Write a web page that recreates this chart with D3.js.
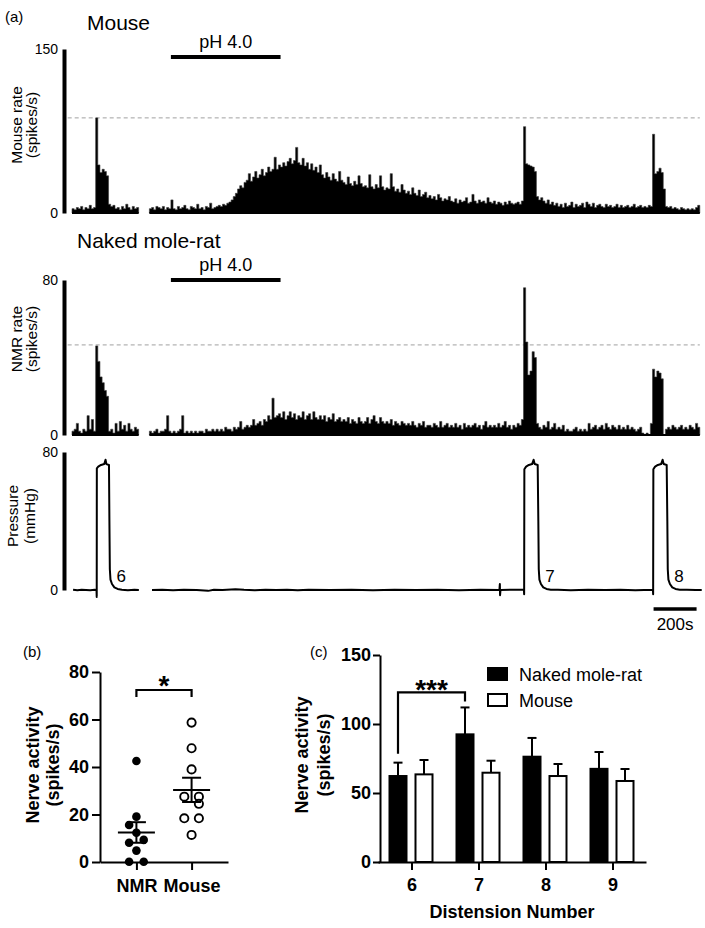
<!DOCTYPE html>
<html><head><meta charset="utf-8">
<script src="https://cdn.jsdelivr.net/npm/d3@7"></script>
<style>
body{margin:0;background:#fff;}
svg{display:block;}
</style></head><body>
<svg id="fig" width="705" height="928"></svg>
<script>
// ================= DATA =================
// (a) firing-rate histograms, 10 s bins
const binWidth = 10;          // seconds per bin
const seg1Start = 0;          // first recording segment start (s)
const seg2Start = 360;        // second recording segment start (s)
const mouseSeg1 = [4,3,5,4,6,3,5,4,7,4,5, 87,44,37,40,38,34, 8,6,7,4,5,3,6,4,8,5,3,6,4,5];
const mouseSeg2 = [
 4,5,3,6,5,4,6,3,5,4,
 12,4,3,6,4,5,7,4,3,6,
 5,4,8,4,5,3,6,5,9,4,
 5,6,7,6,8,7,9,10,12,15,
 18,22,25,23,28,30,36,29,33,38,
 32,35,40,34,37,42,38,40,51,40,
 44,42,46,43,47,50,45,48,60,46,
 44,50,43,46,40,45,39,42,37,44,
 35,32,37,33,30,36,31,29,38,30,
 28,26,33,27,25,29,26,34,27,24,
 25,23,35,24,22,26,23,34,24,21,
 23,22,36,24,20,22,19,26,21,18,
 20,17,23,18,16,21,15,17,19,14,
 16,13,15,12,17,14,11,13,12,15,
 11,10,13,9,12,10,11,14,9,10,
 17,11,9,12,10,11,9,14,10,9,
 11,8,10,9,7,10,8,11,9,8,
 9,10,8,11,
 79,45,44,43,42,38,
 15,12,14,11,9,12,8,10,7,9,
 6,8,5,9,6,7,10,5,8,6,
 7,9,5,10,8,6,9,5,7,8,
 6,5,8,6,7,5,6,8,5,7,
 5,6,7,5,6,8,5,6,7,5,
 6,5,7,6,
 72,36,38,41,37,22,
 6,5,6,4,5,4,3,5,4,3,4,3,4,3,5,7];
const nmrSeg1 = [2,3,6,2,1,3,2,10,3,8,2, 46,38,30,27,23,20, 2,3,1,6,2,7,3,5,2,6,3,2,4,3];
const nmrSeg2 = [
 2,1,2,3,1,2,2,3,10,2,
 1,2,1,2,3,10,1,2,1,2,
 1,2,1,2,2,1,3,2,2,3,
 2,3,2,3,2,4,3,3,2,4,
 3,4,7,3,4,5,4,5,8,5,
 6,7,5,8,7,10,8,19,9,10,
 11,9,12,8,10,12,9,11,8,10,
 9,12,8,10,11,8,12,9,8,10,
 8,10,7,9,8,11,7,8,9,7,
 8,7,9,6,8,7,6,9,7,6,
 7,9,6,8,10,7,6,9,7,6,
 7,6,8,5,7,6,5,7,6,5,
 6,5,7,5,4,6,5,7,4,5,
 5,4,6,5,4,7,4,5,6,4,
 5,4,6,4,5,3,6,4,5,4,
 5,6,4,5,3,5,7,4,5,4,
 5,4,6,4,5,7,4,5,3,5,
 4,6,5,8,
 76,48,31,33,43,40,
 6,4,3,5,4,7,3,4,6,3,
 4,3,5,2,3,2,2,3,4,2,
 3,2,3,2,6,3,4,5,3,4,
 5,3,6,4,3,5,4,3,5,3,
 4,3,5,3,4,3,2,3,4,1,
 0,1,0,6,
 34,30,33,32,29,0,
 3,4,3,5,4,3,4,5,3,4,3,5,4,3,6,4];
const mouseRateMax = 150, nmrRateMax = 80, pressureMax = 80;
const mouseRefLevel = 87;     // dashed reference (first distension peak)
const nmrRefLevel = 46.5;
const phWindow = [460, 970];  // pH 4.0 application (s)
const phLabel = "pH 4.0";
// pressure trace (time s, mmHg)
const pressSeg1T = [5,25,45,65,85,105,114,115,115.5,122,135,150,156,160,172,174,176,179,186,197,212,232,260,290,311];
const pressSeg1V = [0.1,-0.1,0.15,0,-0.1,0.1,0.05,-4,70.5,71.5,72.5,73,75.5,73,72.5,40,12,6,3.5,1.5,0.6,0.2,-0.1,0.1,0];
const pressSeg2T = [372,420,470,520,580,633,660,700,760,800,850,900,950,1000,1050,1100,1200,1300,1400,1500,1600,1700,1800,1900,1988,1990,1991,1993,2050,2102,2103,2104,2112,2125,2140,2147,2152,2166,2169,2171,2174,2181,2192,2207,2227,2260,2320,2400,2480,2550,2620,2702,2703,2704,2712,2725,2740,2747,2752,2766,2769,2771,2774,2781,2792,2807,2827,2860,2900,2929];
const pressSeg2V = [0,0.15,-0.1,0.1,0,-0.5,0.1,0,0.4,0.1,-0.1,0.15,0,0.1,-0.15,0.1,0,0.15,-0.1,0.1,0,0.15,-0.15,0.1,0,3.5,-3,0,0.15,0.1,-2.5,70,71.5,72.5,73,75.5,73,72.5,40,12,6,3.5,1.5,0.6,0.2,0.1,-0.1,0.1,0,0.15,-0.1,0.1,-2.5,70,71.5,72.5,73,75.5,73,72.5,40,12,6,3.5,1.5,0.6,0.2,0.1,-0.05,0];
const distensionLabels = ["6","7","8"];
const distensionEndTimes = [174, 2169, 2769];
const scaleBarSeconds = 200, scaleBarStart = 2705, scaleBarLabel = "200s";

// (b) nerve activity during pH 4.0
const scatterGroups = ["NMR","Mouse"];
const nmrActivity = [42.5,19.1,15.6,12.3,9.3,8.1,4.8,0.1,0.1];
const mouseActivity = [58.7,47.9,39.0,27.5,27.5,24.5,18.4,18.4,11.4];
const bTicks = [0,20,40,60,80];

// (c) distension responses
const distensions = [6,7,8,9];
const barSeries = ["Naked mole-rat","Mouse"];
const nmrBarMean = [62.3,92.5,76.3,67.5];
const nmrBarSem  = [9.7,19.5,13.6,12.2];
const mouseBarMean = [63.5,64.7,62.3,58.7];
const mouseBarSem  = [10.4,8.7,8.7,8.7];
const cTicks = [0,50,100,150];

// ================= DRAW =================
const FONT = "'Liberation Sans', Arial, Helvetica, sans-serif";
const svg = d3.select("#fig").attr("font-family", FONT);
svg.append("rect").attr("width",705).attr("height",928).attr("fill","#fff");

function text(x, y, s, size, o = {}) {
  const t = svg.append("text").attr("x", x).attr("y", y).text(s)
    .attr("font-size", size).attr("fill", "#000")
    .attr("text-anchor", o.anchor || "start")
    .attr("font-weight", o.bold ? "bold" : "normal");
  if (o.rotate) t.attr("transform", `rotate(-90,${x},${y})`);
  return t;
}
function styleAxis(g, size, bold, sw) {
  g.attr("font-family", FONT).attr("font-size", size).attr("font-weight", bold ? "bold" : "normal");
  g.selectAll("text").attr("fill", "#000");
  g.selectAll("path,line").attr("stroke", "#000").attr("stroke-width", sw);
}

// ---------- panel (a) ----------
const xT = d3.scaleLinear().domain([0, 2920]).range([72, 699.8]);
text(5, 22, "(a)", 15);

function ratePanel(cfg) {
  const y = d3.scaleLinear().domain([0, cfg.max]).range([cfg.y0, cfg.y1]);
  const g = svg.append("g");
  g.append("line").attr("x1", xT(-20)).attr("x2", xT(2920))
    .attr("y1", y(cfg.ref)).attr("y2", y(cfg.ref))
    .attr("stroke", "#a0a0a0").attr("stroke-width", 1).attr("stroke-dasharray", "4,3");
  [[seg1Start, cfg.seg1], [seg2Start, cfg.seg2]].forEach(([t0, vals]) => {
    const pts = vals.map((v, i) => ({ t: t0 + i * binWidth, v }));
    pts.push({ t: t0 + vals.length * binWidth, v: vals[vals.length - 1] });
    g.append("path")
      .attr("d", d3.area().curve(d3.curveStepAfter).x(d => xT(d.t)).y0(y(0)).y1(d => y(d.v))(pts))
      .attr("fill", "#000").attr("stroke", "#3a3a3a").attr("stroke-width", 0.6);
    g.append("line").attr("x1", xT(t0)).attr("x2", xT(t0 + vals.length * binWidth))
      .attr("y1", y(0)).attr("y2", y(0)).attr("stroke", "#000").attr("stroke-width", 2);
  });
  const ax = g.append("g").attr("transform", "translate(64,0)")
    .call(d3.axisLeft(y).tickValues([0, cfg.max]).tickSize(0).tickPadding(6).tickSizeOuter(0));
  styleAxis(ax, 14, false, 4);
  // titles / pH bar
  text(cfg.titleX, cfg.titleY, cfg.title, 21);
  g.append("line").attr("x1", xT(phWindow[0])).attr("x2", xT(phWindow[1]))
    .attr("y1", cfg.phY).attr("y2", cfg.phY).attr("stroke", "#000").attr("stroke-width", 4);
  text(xT((phWindow[0] + phWindow[1]) / 2), cfg.phY - 9, phLabel, 18, { anchor: "middle" });
  text(22, cfg.labelY, cfg.label[0], 15.5, { anchor: "middle", rotate: true });
  text(37, cfg.labelY, cfg.label[1], 15.5, { anchor: "middle", rotate: true });
}
ratePanel({ max: mouseRateMax, y0: 213, y1: 49, seg1: mouseSeg1, seg2: mouseSeg2, ref: mouseRefLevel,
  title: "Mouse", titleX: 87, titleY: 30, phY: 57, label: ["Mouse rate", "(spikes/s)"], labelY: 125 });
ratePanel({ max: nmrRateMax, y0: 435, y1: 280, seg1: nmrSeg1, seg2: nmrSeg2, ref: nmrRefLevel,
  title: "Naked mole-rat", titleX: 77, titleY: 248, phY: 280, label: ["NMR rate", "(spikes/s)"], labelY: 339 });

// pressure
const yP = d3.scaleLinear().domain([0, pressureMax]).range([590, 452]);
const pLine = d3.line().x(d => xT(d.t)).y(d => yP(d.v));
[[pressSeg1T, pressSeg1V], [pressSeg2T, pressSeg2V]].forEach(([T, V]) => {
  svg.append("path").attr("d", pLine(T.map((t, i) => ({ t, v: V[i] }))))
    .attr("fill", "none").attr("stroke", "#000").attr("stroke-width", 2).attr("stroke-linejoin", "round");
});
const axP = svg.append("g").attr("transform", "translate(64,0)")
  .call(d3.axisLeft(yP).tickValues([0, pressureMax]).tickSize(0).tickPadding(6).tickSizeOuter(0));
styleAxis(axP, 14, false, 4);
text(18, 516, "Pressure", 15.5, { anchor: "middle", rotate: true });
text(35, 516, "(mmHg)", 15.5, { anchor: "middle", rotate: true });
distensionLabels.forEach((s, i) => text(xT(distensionEndTimes[i]) + 7, 582, s, 17));
svg.append("line").attr("x1", xT(scaleBarStart)).attr("x2", xT(scaleBarStart + scaleBarSeconds))
  .attr("y1", 609).attr("y2", 609).attr("stroke", "#000").attr("stroke-width", 3.5);
text(xT(scaleBarStart + scaleBarSeconds / 2), 630, scaleBarLabel, 17, { anchor: "middle" });

// ---------- panel (b) ----------
text(23, 657, "(b)", 15);
const yB = d3.scaleLinear().domain([0, 80]).range([862, 672]);
const xB = d3.scalePoint().domain(scatterGroups).range([100, 228]).padding(0.66);
const axYB = svg.append("g").attr("transform", "translate(100,0)")
  .call(d3.axisLeft(yB).tickValues(bTicks).tickSize(8).tickSizeOuter(0).tickPadding(3));
styleAxis(axYB, 18, true, 2);
const axXB = svg.append("g").attr("transform", "translate(0,862)")
  .call(d3.axisBottom(xB).tickSize(8).tickSizeOuter(0).tickPadding(9));
styleAxis(axXB, 18, true, 2);
text(39, 765, "Nerve activity", 18, { anchor: "middle", rotate: true, bold: true });
text(59, 765, "(spikes/s)", 18, { anchor: "middle", rotate: true, bold: true });

function swarm(values, y, step, minDist) {
  const order = values.map((v, i) => i).sort((a, b) => values[b] - values[a]);
  const placed = []; let side = -1;
  order.forEach(i => {
    const cy = y(values[i]);
    const cands = [0];
    for (let k = 1; k <= 4; k++) cands.push(side * k * step, -side * k * step);
    let chosen = 0;
    for (const dx of cands) {
      if (placed.every(p => Math.hypot(p.dx - dx, p.cy - cy) >= minDist)) { chosen = dx; break; }
    }
    if (chosen !== 0) side = -Math.sign(chosen);
    placed.push({ i, dx: chosen, cy });
  });
  // centre rows of points sharing the same value
  const used = new Set();
  placed.forEach(p => {
    if (used.has(p)) return;
    const row = placed.filter(q => Math.abs(q.cy - p.cy) < 1);
    row.forEach(q => used.add(q));
    if (row.length > 1) { const m = d3.mean(row, q => q.dx); row.forEach(q => q.dx -= m); }
  });
  const off = new Array(values.length);
  placed.forEach(p => off[p.i] = p.dx);
  return off;
}
function scatterGroup(values, group, filled) {
  const cx = xB(group);
  const off = swarm(values, yB, 7.3, 9);
  svg.append("g").selectAll("circle").data(values).join("circle")
    .attr("cx", (d, i) => cx + off[i]).attr("cy", d => yB(d)).attr("r", filled ? 4.3 : 4.1)
    .attr("fill", filled ? "#000" : "#fff").attr("stroke", "#000").attr("stroke-width", filled ? 0 : 1.9);
  const m = d3.mean(values), sem = d3.deviation(values) / Math.sqrt(values.length);
  const g = svg.append("g").attr("stroke", "#000").attr("stroke-width", 2);
  g.append("line").attr("x1", cx - 18.5).attr("x2", cx + 18.5).attr("y1", yB(m)).attr("y2", yB(m));
  g.append("line").attr("x1", cx).attr("x2", cx).attr("y1", yB(m - sem)).attr("y2", yB(m + sem));
  [m - sem, m + sem].forEach(v => g.append("line").attr("x1", cx - 9.5).attr("x2", cx + 9.5).attr("y1", yB(v)).attr("y2", yB(v)));
}
scatterGroup(nmrActivity, "NMR", true);
scatterGroup(mouseActivity, "Mouse", false);
{
  const x1 = xB("NMR"), x2 = xB("Mouse"), top = yB(80) + 18;
  svg.append("path").attr("d", `M${x1},${top + 7}V${top}H${x2}V${top + 7}`)
    .attr("fill", "none").attr("stroke", "#000").attr("stroke-width", 2.2);
  text((x1 + x2) / 2, top + 5, "*", 28, { anchor: "middle", bold: true });
}

// ---------- panel (c) ----------
text(310, 657, "(c)", 15);
const yC = d3.scaleLinear().domain([0, 150]).range([862, 655]);
const xC = d3.scalePoint().domain(distensions).range([378, 646]).padding(0.5);
const sub = d3.scaleBand().domain(barSeries).range([-22, 21]).paddingInner(0.346);
const bw = sub.bandwidth();
const seriesData = [
  { name: barSeries[0], mean: nmrBarMean, sem: nmrBarSem, fill: "#000" },
  { name: barSeries[1], mean: mouseBarMean, sem: mouseBarSem, fill: "#fff" }
];
seriesData.forEach(s => {
  const g = svg.append("g");
  distensions.forEach((d, i) => {
    const x0 = xC(d) + sub(s.name), xc = x0 + bw / 2;
    const top = yC(s.mean[i]), etop = yC(s.mean[i] + s.sem[i]);
    g.append("line").attr("x1", xc).attr("x2", xc).attr("y1", top).attr("y2", etop).attr("stroke", "#000").attr("stroke-width", 2);
    g.append("line").attr("x1", xc - 4.5).attr("x2", xc + 4.5).attr("y1", etop).attr("y2", etop).attr("stroke", "#000").attr("stroke-width", 2);
    g.append("rect").attr("x", x0).attr("y", top).attr("width", bw).attr("height", yC(0) - top)
      .attr("fill", s.fill).attr("stroke", "#000").attr("stroke-width", 2);
  });
});
const axYC = svg.append("g").attr("transform", "translate(380,0)")
  .call(d3.axisLeft(yC).tickValues(cTicks).tickSize(7).tickSizeOuter(0).tickPadding(2));
styleAxis(axYC, 18, true, 2);
const axXC = svg.append("g").attr("transform", "translate(0,862)")
  .call(d3.axisBottom(xC).tickSize(8).tickSizeOuter(0).tickPadding(8));
styleAxis(axXC, 18, true, 2);
text(512, 918, "Distension Number", 18, { anchor: "middle", bold: true });
text(308, 755, "Nerve activity", 18, { anchor: "middle", rotate: true, bold: true });
text(330, 755, "(spikes/s)", 18, { anchor: "middle", rotate: true, bold: true });
{
  const xa = xC(6) + sub(barSeries[0]) + bw / 2, xb = xC(7) + sub(barSeries[0]) + bw / 2;
  const top = yC(nmrBarMean[1] + nmrBarSem[1]) - 15;
  const la = yC(nmrBarMean[0] + nmrBarSem[0]) - 9, lb = yC(nmrBarMean[1] + nmrBarSem[1]) - 6;
  svg.append("path").attr("d", `M${xa},${la}V${top}H${xb}V${lb}`)
    .attr("fill", "none").attr("stroke", "#000").attr("stroke-width", 2.2);
  text((xa + xb) / 2, top + 7, "***", 28, { anchor: "middle", bold: true });
}
// legend
seriesData.forEach((s, i) => {
  const ly = 668 + i * 26;
  svg.append("rect").attr("x", 488).attr("y", ly).attr("width", 19).attr("height", 12)
    .attr("fill", s.fill).attr("stroke", "#000").attr("stroke-width", 2);
  text(519, ly + 13, s.name, 18);
});
</script>
</body></html>
